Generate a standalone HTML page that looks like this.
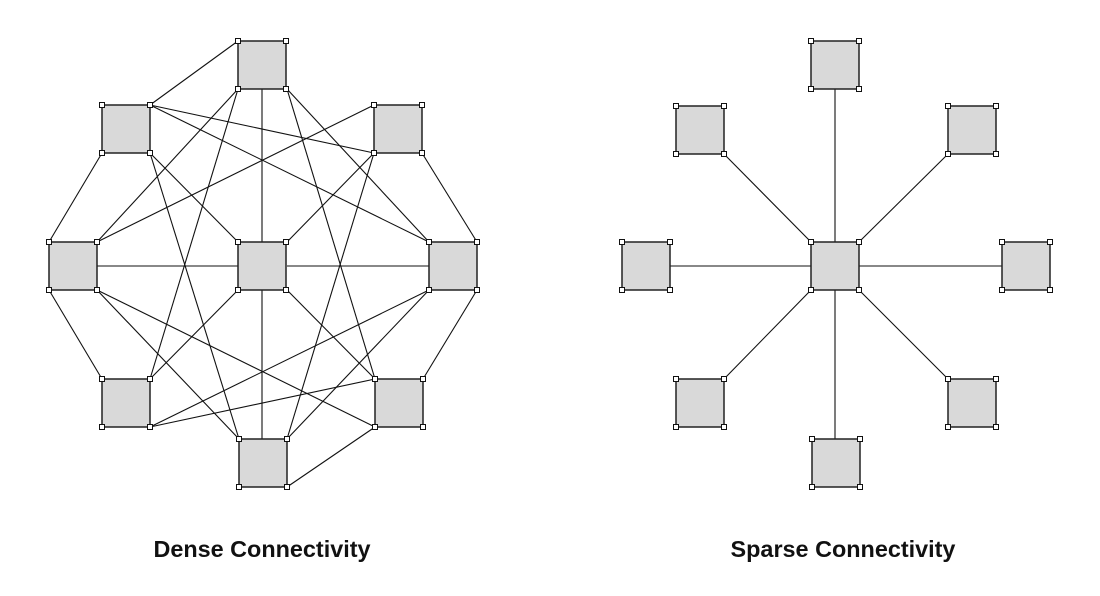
<!DOCTYPE html>
<html><head><meta charset="utf-8"><style>
html,body{margin:0;padding:0;background:#fff;width:1100px;height:596px;overflow:hidden}
svg{display:block}
text{font-family:"Liberation Sans",sans-serif;font-weight:bold;font-size:23.4px;fill:#111}
</style></head><body>
<svg id="s" width="1100" height="596" viewBox="0 0 1100 596" xmlns="http://www.w3.org/2000/svg">
<g id="lines" stroke="#111" stroke-width="1.1" fill="none"></g>
<g id="boxes"></g>
<text x="262" y="557" text-anchor="middle">Dense Connectivity</text>
<text x="843" y="557" text-anchor="middle">Sparse Connectivity</text>
</svg>
<script>
var NS="http://www.w3.org/2000/svg";
function el(p,t,a){var e=document.createElementNS(NS,t);for(var k in a)e.setAttribute(k,a[k]);p.appendChild(e);return e;}
var L=document.getElementById('lines'),B=document.getElementById('boxes');
function line(a,b,c,d){el(L,'line',{x1:a,y1:b,x2:c,y2:d});}
function box(x,y){
 el(B,'rect',{x:x,y:y,width:48,height:48,fill:'#d9d9d9',stroke:'#222','stroke-width':1.5});
 [[x,y],[x+48,y],[x,y+48],[x+48,y+48]].forEach(function(p){
  el(B,'rect',{x:p[0]-2.5,y:p[1]-2.5,width:5,height:5,fill:'#fff',stroke:'#111','stroke-width':1});
 });
}
var D=[[238,41],[102,105],[374,105],[49,242],[238,242],[429,242],[102,379],[375,379],[239,439]];
D.forEach(function(p){box(p[0],p[1]);});
var dl=[
[238,41,150,105],[238,89,97,242],[238,89,150,379],[287,89,375,379],[287,89,429,242],[262,89,262,242],
[150,105,374,153],[150,105,429,242],[102,153,49,242],[150,153,238,242],[150,153,239,439],
[374,105,97,242],[374,153,287,242],[374,153,287,439],[422,153,477,242],
[97,266,238,266],[287,266,429,266],
[49,290,102,379],[97,290,239,439],[97,290,375,427],[238,290,150,379],[262,290,262,439],
[287,290,375,379],[429,290,150,427],[429,290,287,439],[477,290,423,379],[375,379,150,427],[375,427,287,487]
];
dl.forEach(function(a){line(a[0],a[1],a[2],a[3]);});
line(835,89,835,242);line(835,290,835,439);
line(670,266,811,266);line(859,266,1002,266);
line(724,154,811,242);line(948,154,859,242);
line(724,379,811,290);line(948,379,859,290);
[[811,41],[676,106],[948,106],[622,242],[811,242],[1002,242],[676,379],[948,379],[812,439]].forEach(function(p){box(p[0],p[1]);});
</script>
</body></html>
